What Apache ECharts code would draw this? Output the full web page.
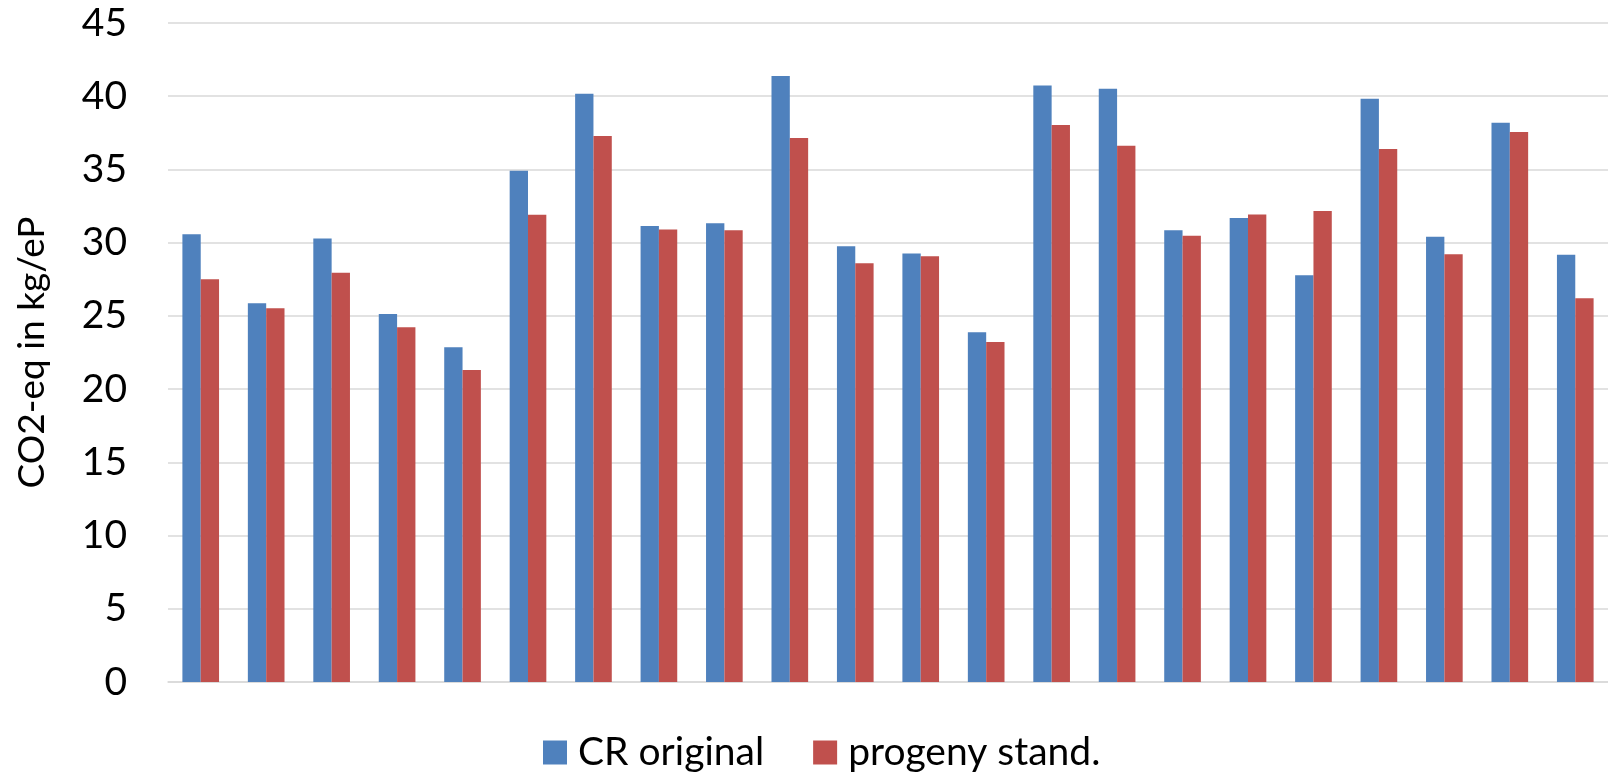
<!DOCTYPE html>
<html>
<head>
<meta charset="utf-8">
<script src="https://cdn.jsdelivr.net/npm/echarts@6/dist/echarts.min.js"></script>
<style>
  html, body { margin: 0; padding: 0; background: #fff; }
  #chart { width: 1608px; height: 775px; }
</style>
</head>
<body>
<div id="chart"></div>
<script>
// Emissions per category, two variants
const categories = ['1','2','3','4','5','6','7','8','9','10','11','12','13','14','15','16','17','18','19','20','21','22'];
const crOriginal = [30.58, 25.86, 30.28, 25.13, 22.86, 34.91, 40.17, 31.13, 31.33, 41.38, 29.76, 29.26, 23.88, 40.74, 40.51, 30.85, 31.69, 27.78, 39.83, 30.40, 38.19, 29.17];
const progenyStand = [27.50, 25.52, 27.94, 24.22, 21.31, 31.90, 37.28, 30.90, 30.85, 37.14, 28.60, 29.08, 23.22, 38.03, 36.62, 30.47, 31.92, 32.17, 36.39, 29.21, 37.55, 26.21];
const yTicks = { min: 0, max: 45, interval: 5 };

const FONT = 'Lato, "Open Sans", sans-serif';

const chart = echarts.init(document.getElementById('chart'), null, { renderer: 'canvas' });
chart.setOption({
  animation: false,
  backgroundColor: '#ffffff',
  textStyle: { fontFamily: FONT },
  grid: { left: 168, right: -11, top: 23, bottom: 93, containLabel: false },
  legend: {
    left: 538,
    top: 728,
    itemWidth: 24,
    itemHeight: 24,
    itemGap: 49,
    icon: 'rect',
    textStyle: { fontSize: 39, color: '#000', fontFamily: FONT, padding: [0, 0, 0, 6] },
    data: ['CR original', 'progeny stand.']
  },
  xAxis: {
    type: 'category',
    data: categories,
    axisLine: { lineStyle: { color: '#d9d9d9', width: 1.5 } },
    axisTick: { show: false },
    axisLabel: { show: false },
    splitLine: { show: false }
  },
  yAxis: {
    type: 'value',
    min: yTicks.min,
    max: yTicks.max,
    interval: yTicks.interval,
    name: 'CO2-eq in kg/eP',
    nameLocation: 'middle',
    nameRotate: 90,
    nameGap: 117,
    nameTextStyle: { fontSize: 37, color: '#000', fontFamily: FONT },
    axisLine: { show: false },
    axisTick: { show: false },
    axisLabel: { fontSize: 39, color: '#000', margin: 41, fontFamily: FONT },
    splitLine: { lineStyle: { color: '#d9d9d9', width: 1.5 } }
  },
  series: [
    {
      name: 'CR original',
      type: 'bar',
      data: crOriginal,
      barGap: '0%',
      barCategoryGap: '44%',
      itemStyle: { color: '#4F81BD' }
    },
    {
      name: 'progeny stand.',
      type: 'bar',
      data: progenyStand,
      barGap: '0%',
      barCategoryGap: '44%',
      itemStyle: { color: '#C0504D' }
    }
  ]
});
</script>
</body>
</html>
